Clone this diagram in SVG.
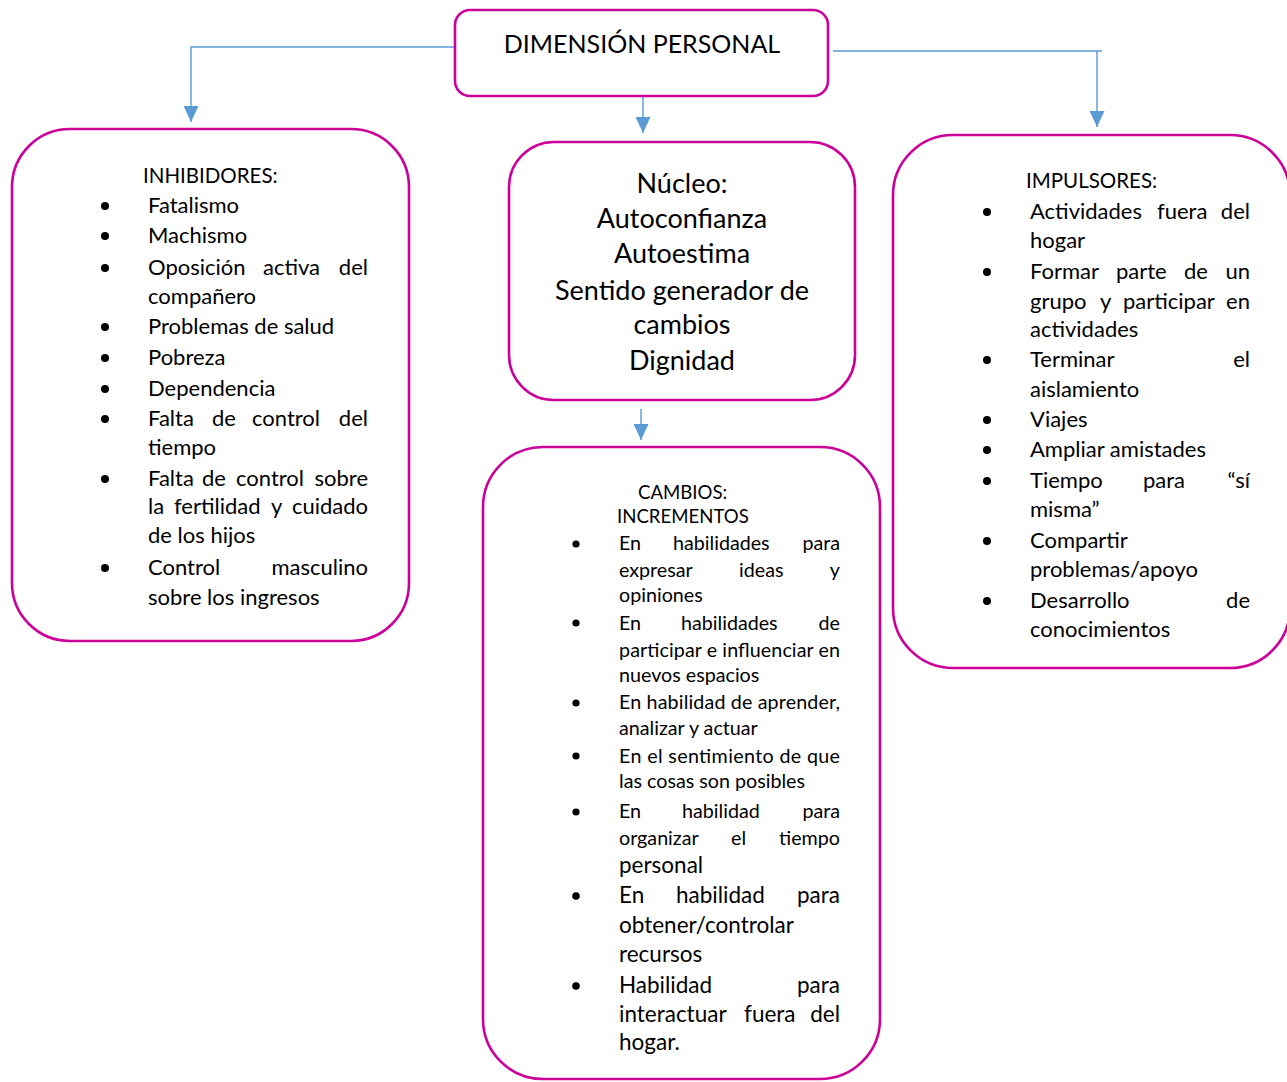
<svg xmlns="http://www.w3.org/2000/svg" width="1287" height="1082" viewBox="0 0 1287 1082">
<style>
.box{fill:#fff;stroke:#CC0099;stroke-width:2.6}
.con{fill:none;stroke:#5B9BD5;stroke-width:1.4}
text{font-family:Lato,"Open Sans","Liberation Sans",sans-serif;fill:#000}
.t{font-size:22px}
.h{font-size:20.5px}
.n{font-size:27px}
.s{font-size:19.7px}
.c{font-size:18.6px}
.l{font-size:22.5px}
.e{text-anchor:end}
.m{text-anchor:middle}
.bul{fill:#000}
</style>
<defs>
<marker id="arr" markerUnits="userSpaceOnUse" markerWidth="16" markerHeight="15" refX="16" refY="7.5" orient="auto">
<path d="M0,0 L16,7.5 L0,15 Z" fill="#5B9BD5"/>
</marker>
</defs>
<rect width="1287" height="1082" fill="#fff"/>
<g id="connectors">
<path class="con" d="M455,47 H191 V122" marker-end="url(#arr)"/>
<path class="con" d="M833,51 H1102 M1097,51 V127" marker-end="url(#arr)"/>
<path class="con" d="M643,97 V133" marker-end="url(#arr)"/>
<path class="con" d="M641,409 V440" marker-end="url(#arr)"/>
</g>
<g id="dimension">
<rect class="box" x="455" y="10" width="373" height="86" rx="15"/>
<text class="m" x="642" y="53" font-size="25">DIMENSIÓN PERSONAL</text>
</g>
<g id="inhibidores">
<rect class="box" x="12" y="129" width="397" height="512" rx="58"/>
<text class="h" x="143" y="183">INHIBIDORES:</text>
<g class="bul">
<circle cx="105" cy="206" r="4"/><circle cx="105" cy="236" r="4"/><circle cx="105" cy="268" r="4"/><circle cx="105" cy="327" r="4"/><circle cx="105" cy="358" r="4"/><circle cx="105" cy="389" r="4"/><circle cx="105" cy="419" r="4"/><circle cx="105" cy="479" r="4"/><circle cx="105" cy="568" r="4"/>
</g>
<text class="t" x="148" y="213">Fatalismo</text>
<text class="t" x="148" y="243">Machismo</text>
<text class="t" y="275"><tspan x="148">Oposición</tspan><tspan x="263">activa</tspan></text><text class="t e" x="368" y="275">del</text>
<text class="t" x="148" y="304">compañero</text>
<text class="t" x="148" y="334">Problemas de salud</text>
<text class="t" x="148" y="365">Pobreza</text>
<text class="t" x="148" y="396">Dependencia</text>
<text class="t" y="426"><tspan x="148">Falta</tspan><tspan x="212">de</tspan><tspan x="252">control</tspan></text><text class="t e" x="368" y="426">del</text>
<text class="t" x="148" y="455">tiempo</text>
<text class="t" y="486"><tspan x="148">Falta</tspan><tspan x="202">de</tspan><tspan x="236">control</tspan></text><text class="t e" x="368" y="486">sobre</text>
<text class="t" y="514"><tspan x="148">la</tspan><tspan x="174">fertilidad</tspan><tspan x="271">y</tspan></text><text class="t e" x="368" y="514">cuidado</text>
<text class="t" x="148" y="543">de los hijos</text>
<text class="t" x="148" y="575">Control</text><text class="t e" x="368" y="575">masculino</text>
<text class="t" x="148" y="605">sobre los ingresos</text>
</g>
<g id="nucleo">
<rect class="box" x="509" y="142" width="346" height="258" rx="45"/>
<text class="n m" x="682" y="193">Núcleo:</text>
<text class="n m" x="682" y="228">Autoconfianza</text>
<text class="n m" x="682" y="263">Autoestima</text>
<text class="n m" x="682" y="300">Sentido generador de</text>
<text class="n m" x="682" y="334">cambios</text>
<text class="n m" x="682" y="370">Dignidad</text>
</g>
<g id="cambios">
<rect class="box" x="483" y="447" width="397" height="632" rx="60"/>
<text class="c" x="638" y="499">CAMBIOS:</text>
<text class="c" x="617" y="523">INCREMENTOS</text>
<g class="bul">
<circle cx="576" cy="544" r="3.6"/><circle cx="576" cy="623" r="3.6"/><circle cx="576" cy="703" r="3.6"/><circle cx="576" cy="756" r="3.6"/><circle cx="576" cy="812" r="3.6"/><circle cx="576" cy="896" r="3.8"/><circle cx="576" cy="986" r="3.8"/>
</g>
<text class="s" y="550"><tspan x="619">En</tspan><tspan x="673">habilidades</tspan></text><text class="s e" x="840" y="550">para</text>
<text class="s" y="577"><tspan x="619">expresar</tspan><tspan x="739">ideas</tspan></text><text class="s e" x="840" y="577">y</text>
<text class="s" x="619" y="602">opiniones</text>
<text class="s" y="630"><tspan x="619">En</tspan><tspan x="681">habilidades</tspan></text><text class="s e" x="840" y="630">de</text>
<text class="s" x="619" y="657" textLength="221" lengthAdjust="spacing">participar e influenciar en</text>
<text class="s" x="619" y="682">nuevos espacios</text>
<text class="s" x="619" y="709" textLength="221" lengthAdjust="spacing">En habilidad de aprender,</text>
<text class="s" x="619" y="735">analizar y actuar</text>
<text class="s" x="619" y="763" textLength="221" lengthAdjust="spacing">En el sentimiento de que</text>
<text class="s" x="619" y="788">las cosas son posibles</text>
<text class="s" y="818"><tspan x="619">En</tspan><tspan x="682">habilidad</tspan></text><text class="s e" x="840" y="818">para</text>
<text class="s" y="845"><tspan x="619">organizar</tspan><tspan x="731">el</tspan></text><text class="s e" x="840" y="845">tiempo</text>
<text class="l" x="619" y="873">personal</text>
<text class="l" y="903"><tspan x="619">En</tspan><tspan x="676">habilidad</tspan></text><text class="l e" x="840" y="903">para</text>
<text class="l" x="619" y="933">obtener/controlar</text>
<text class="l" x="619" y="962">recursos</text>
<text class="l" x="619" y="993">Habilidad</text><text class="l e" x="840" y="993">para</text>
<text class="l" y="1022"><tspan x="619">interactuar</tspan><tspan x="744">fuera</tspan></text><text class="l e" x="840" y="1022">del</text>
<text class="l" x="619" y="1050">hogar.</text>
</g>
<g id="impulsores">
<rect class="box" x="893" y="135" width="397" height="533" rx="60"/>
<text class="h" x="1026" y="188">IMPULSORES:</text>
<g class="bul">
<circle cx="987" cy="212" r="4"/><circle cx="987" cy="272" r="4"/><circle cx="987" cy="360" r="4"/><circle cx="987" cy="420" r="4"/><circle cx="987" cy="450" r="4"/><circle cx="987" cy="481" r="4"/><circle cx="987" cy="541" r="4"/><circle cx="987" cy="601" r="4"/>
</g>
<text class="t" y="219"><tspan x="1030">Actividades</tspan><tspan x="1157">fuera</tspan></text><text class="t e" x="1250" y="219">del</text>
<text class="t" x="1030" y="248">hogar</text>
<text class="t" y="279"><tspan x="1030">Formar</tspan><tspan x="1116">parte</tspan><tspan x="1184">de</tspan></text><text class="t e" x="1250" y="279">un</text>
<text class="t" y="309"><tspan x="1030">grupo</tspan><tspan x="1100">y</tspan><tspan x="1123">participar</tspan></text><text class="t e" x="1250" y="309">en</text>
<text class="t" x="1030" y="337">actividades</text>
<text class="t" x="1030" y="367">Terminar</text><text class="t e" x="1250" y="367">el</text>
<text class="t" x="1030" y="397">aislamiento</text>
<text class="t" x="1030" y="427">Viajes</text>
<text class="t" x="1030" y="457">Ampliar amistades</text>
<text class="t" y="488"><tspan x="1030">Tiempo</tspan><tspan x="1143">para</tspan></text><text class="t e" x="1250" y="488">“sí</text>
<text class="t" x="1030" y="517">misma”</text>
<text class="t" x="1030" y="548">Compartir</text>
<text class="t" x="1030" y="577">problemas/apoyo</text>
<text class="t" x="1030" y="608">Desarrollo</text><text class="t e" x="1250" y="608">de</text>
<text class="t" x="1030" y="637">conocimientos</text>
</g>
</svg>
